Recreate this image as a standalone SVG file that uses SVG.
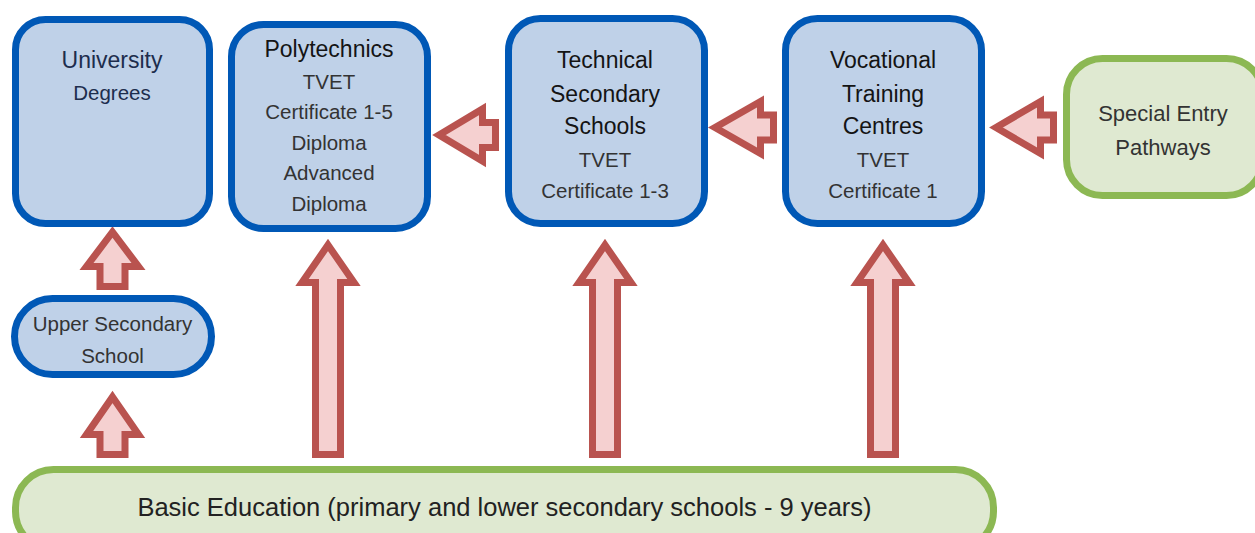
<svg xmlns="http://www.w3.org/2000/svg" width="1255" height="533" viewBox="0 0 1255 533">
<style>
.blue{fill:#bfd1e8;stroke:#0058b6;stroke-width:7}
.green{fill:#dfe9d1;stroke:#8cb853;stroke-width:7}
.arr{fill:#f5d0d0;stroke:#b9534f;stroke-width:7;stroke-linejoin:miter;stroke-miterlimit:10}
text{font-family:"Liberation Sans",Arial,sans-serif;text-anchor:middle;fill:#262626}
.t{font-size:23px;fill:#141414}
.s{font-size:20.5px;fill:#333}
.nav{fill:#1d2d4d}
</style>
<rect width="1255" height="533" fill="#fff"/>
<g id="connectors">
<polygon class="arr" points="112.5,397 138.5,434.5 125,434.5 125,454.5 100,454.5 100,434.5 86.5,434.5"/>
<polygon class="arr" points="112.5,232 138.5,266.5 125,266.5 125,286.5 100,286.5 100,266.5 86.5,266.5"/>
<polygon class="arr" points="328,245 354,282.5 340.5,282.5 340.5,454.5 315.5,454.5 315.5,282.5 302,282.5"/>
<polygon class="arr" points="605,245 631,282.5 617.5,282.5 617.5,454.5 592.5,454.5 592.5,282.5 579,282.5"/>
<polygon class="arr" points="883,245 909,282.5 895.5,282.5 895.5,454.5 870.5,454.5 870.5,282.5 857,282.5"/>
<polygon class="arr" points="439,135 482.5,109 482.5,122.5 495.5,122.5 495.5,147.5 482.5,147.5 482.5,161"/>
<polygon class="arr" points="715,127.5 760.5,101.5 760.5,115 773.5,115 773.5,140 760.5,140 760.5,153.5"/>
<polygon class="arr" points="996,127.5 1040.5,101.5 1040.5,115 1053.5,115 1053.5,140 1040.5,140 1040.5,153.5"/>
</g>
<g id="university">
<rect class="blue" x="15.5" y="19.5" width="194" height="204" rx="30"/>
<text class="t nav" x="112" y="68">University</text>
<text class="s nav" x="112" y="100">Degrees</text>
</g>
<g id="polytechnics">
<rect class="blue" x="231.5" y="24.5" width="196" height="204" rx="32"/>
<text class="t" x="329" y="57">Polytechnics</text>
<text class="s" x="329" y="89">TVET</text>
<text class="s" x="329" y="119">Certificate 1-5</text>
<text class="s" x="329" y="150">Diploma</text>
<text class="s" x="329" y="180">Advanced</text>
<text class="s" x="329" y="211">Diploma</text>
</g>
<g id="technical">
<rect class="blue" x="508.5" y="18.5" width="196" height="205" rx="32"/>
<text class="t" x="605" y="68">Technical</text>
<text class="t" x="605" y="102">Secondary</text>
<text class="t" x="605" y="134">Schools</text>
<text class="s" x="605" y="167">TVET</text>
<text class="s" x="605" y="198">Certificate 1-3</text>
</g>
<g id="vocational">
<rect class="blue" x="785.5" y="18.5" width="196" height="205" rx="32"/>
<text class="t" x="883" y="68">Vocational</text>
<text class="t" x="883" y="102">Training</text>
<text class="t" x="883" y="134">Centres</text>
<text class="s" x="883" y="167">TVET</text>
<text class="s" x="883" y="198">Certificate 1</text>
</g>
<g id="special">
<rect class="green" x="1066.5" y="58.5" width="196" height="137" rx="36"/>
<text class="s" x="1163" y="121" style="font-size:22px">Special Entry</text>
<text class="s" x="1163" y="155" style="font-size:22px">Pathways</text>
</g>
<g id="upper">
<rect class="blue" x="14.5" y="298.5" width="197" height="76" rx="38"/>
<text class="s" x="112.5" y="331">Upper Secondary</text>
<text class="s" x="112.5" y="363">School</text>
</g>
<g id="basic">
<rect class="green" x="15.5" y="469.5" width="978" height="80" rx="38"/>
<text x="504.5" y="516" style="font-size:25.5px;fill:#222">Basic Education (primary and lower secondary schools - 9 years)</text>
</g>
</svg>
